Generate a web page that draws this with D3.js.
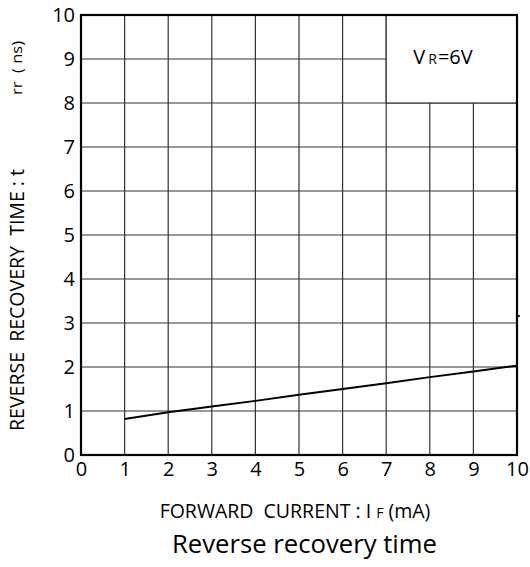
<!DOCTYPE html>
<html>
<head>
<meta charset="utf-8">
<script src="https://cdn.jsdelivr.net/npm/d3@7"></script>
<style>
  body { margin: 0; background: #fff; }
  svg { font-family: "Open Sans", "DejaVu Sans", sans-serif; }
  text { white-space: pre; }
</style>
</head>
<body>
<svg id="canvas" width="530" height="567"></svg>
<script>
// data
var current = [1, 2, 3, 4, 5, 6, 7, 8, 9, 10];           // I_F (mA)
var recovery = [0.82, 0.97, 1.1, 1.23, 1.37, 1.5, 1.63, 1.77, 1.9, 2.03]; // t_rr (ns)
var xTicks = [0, 1, 2, 3, 4, 5, 6, 7, 8, 9, 10];
var yTicks = [0, 1, 2, 3, 4, 5, 6, 7, 8, 9, 10];

var plot = { left: 81, top: 15, right: 517, bottom: 455 };

var svg = d3.select('#canvas');
var x = d3.scaleLinear().domain([0, 10]).range([plot.left, plot.right]);
var y = d3.scaleLinear().domain([0, 10]).range([plot.bottom, plot.top]);

// grid
var grid = svg.append('g').attr('stroke', '#333').attr('stroke-width', 1.2);
xTicks.slice(1, -1).forEach(function(d){
  grid.append('line').attr('x1', x(d)).attr('x2', x(d)).attr('y1', y(0)).attr('y2', d > 7 ? y(8) : y(10));
});
yTicks.slice(1, -1).forEach(function(d){
  grid.append('line').attr('y1', y(d)).attr('y2', y(d)).attr('x1', x(0)).attr('x2', d > 8 ? x(7) : x(10));
});

// legend box
svg.append('rect').attr('x', x(7)).attr('y', y(10)).attr('width', x(10) - x(7)).attr('height', y(8) - y(10))
  .attr('fill', '#fff').attr('stroke', '#333').attr('stroke-width', 1.2);
var leg = svg.append('text').attr('x', 443).attr('y', 64).attr('font-size', 20).attr('fill', '#000')
  .attr('text-anchor', 'middle');
leg.append('tspan').text('V');
leg.append('tspan').attr('font-size', 14).attr('dx', 3).text('R');
leg.append('tspan').attr('dx', 1).text('=6V');

// frame
svg.append('rect').attr('x', plot.left).attr('y', plot.top)
  .attr('width', plot.right - plot.left).attr('height', plot.bottom - plot.top)
  .attr('fill', 'none').attr('stroke', '#000').attr('stroke-width', 2.2);
svg.append('line').attr('x1', x(10)).attr('x2', x(10) + 3).attr('y1', y(3.16)).attr('y2', y(3.16))
  .attr('stroke', '#000').attr('stroke-width', 1.5);

// axes tick labels
var yAxis = d3.axisLeft(y).tickValues(yTicks).tickSize(0).tickPadding(6);
svg.append('g').attr('transform', 'translate(' + plot.left + ',0)').call(yAxis)
  .call(function(g){ g.select('.domain').remove(); })
  .call(function(g){ g.attr('font-size', 20).attr('font-family', null); })
  .selectAll('text').attr('fill', '#000');

var xAxis = d3.axisBottom(x).tickValues(xTicks).tickSize(0).tickPadding(7);
svg.append('g').attr('transform', 'translate(0,' + plot.bottom + ')').call(xAxis)
  .call(function(g){ g.select('.domain').remove(); })
  .call(function(g){ g.attr('font-size', 20).attr('font-family', null); })
  .selectAll('text').attr('fill', '#000');

// curve
var line = d3.line().x(function(d, i){ return x(current[i]); }).y(function(d){ return y(d); });
svg.append('path').attr('d', line(recovery)).attr('fill', 'none').attr('stroke', '#000').attr('stroke-width', 2);

// axis titles
svg.append('text').attr('transform', 'translate(24,300) rotate(-90)').attr('text-anchor', 'middle')
  .attr('font-size', 20).attr('textLength', 262).attr('lengthAdjust', 'spacingAndGlyphs')
  .text('REVERSE  RECOVERY  TIME : t');
svg.append('text').attr('transform', 'translate(22,68) rotate(-90)').attr('text-anchor', 'middle')
  .attr('font-size', 14).attr('textLength', 54).attr('lengthAdjust', 'spacingAndGlyphs')
  .text('rr  ( ns)');

var xl = svg.append('text').attr('x', 295).attr('y', 518).attr('font-size', 19.5)
  .attr('text-anchor', 'middle');
xl.append('tspan').text('FORWARD  CURRENT : I ');
xl.append('tspan').attr('font-size', 14).text('F');
xl.append('tspan').text(' (mA)');

svg.append('text').attr('x', 172).attr('y', 553).attr('font-size', 25.5)
  .attr('textLength', 265).attr('lengthAdjust', 'spacingAndGlyphs')
  .text('Reverse recovery time');
</script>
</body>
</html>
